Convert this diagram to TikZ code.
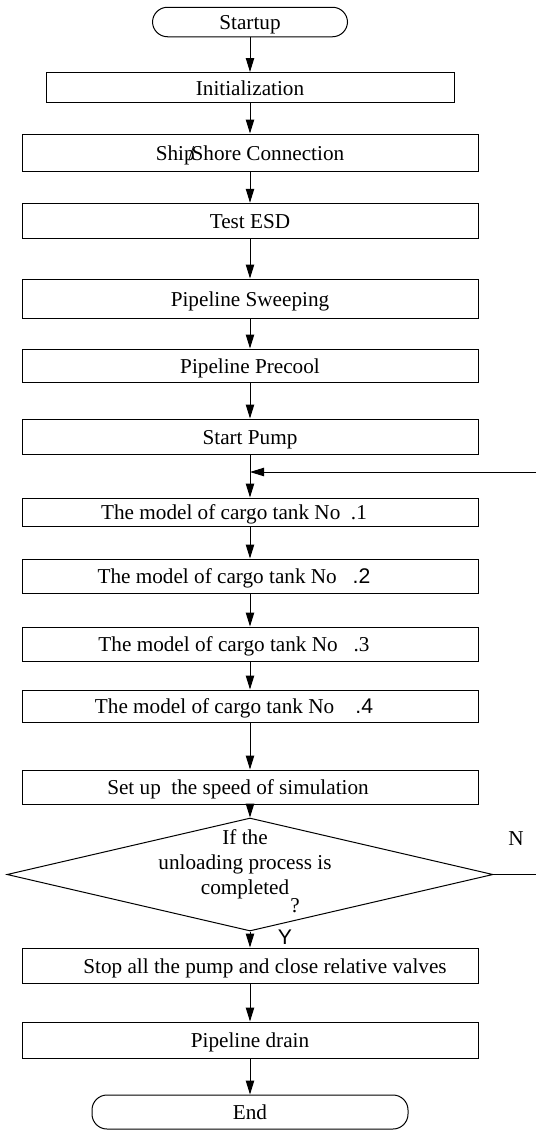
\documentclass[tikz,border=0pt]{standalone}
\usepackage{fontspec}
\setmainfont{Liberation Serif}
\newfontfamily\numfont{Liberation Sans}
\usetikzlibrary{arrows.meta,shapes.geometric}
\begin{document}
\begin{tikzpicture}[x=0.5pt,y=-0.5pt,
  font=\fontsize{10.6}{12.5}\selectfont,
  line width=0.5pt,
  proc/.style={draw,rectangle,minimum width=228pt,inner sep=0pt,text height=0.8em,text depth=0.05em},
  term/.style={draw,rectangle,rounded corners=7.5pt,inner sep=0pt,text height=0.8em,text depth=0.05em},
  flow/.style={-{Triangle[length=7pt,width=4.2pt]}}]
\useasboundingbox (0,0) rectangle (536,1130);
\node[term,minimum width=97.5pt,minimum height=14.75pt] (start) at (250,22) {Startup};
\node[proc,minimum width=204pt,minimum height=15pt] (init) at (250,87.5) {Initialization};
\node[proc,minimum height=18.5pt] (ship) at (250,152.5) {Ship\kern-0.3em/\kern-0.12em Shore Connection};
\node[proc,minimum height=17.75pt] (esd) at (250,221) {Test ESD};
\node[proc,minimum height=19.5pt] (sweep) at (250,298.5) {Pipeline Sweeping};
\node[proc,minimum height=16.5pt] (precool) at (250,365.5) {Pipeline Precool};
\node[proc,minimum height=17.5pt] (pump) at (250,436.5) {Start Pump};
\node[proc,minimum height=14pt] (tank1) at (250,512) {The model of cargo tank No~~.1\hspace*{16pt}};
\node[proc,minimum height=17pt] (tank2) at (250,576) {The model of cargo tank No~~~{\numfont .2}\hspace*{16pt}};
\node[proc,minimum height=17pt] (tank3) at (250,644) {The model of cargo tank No~~~.3\hspace*{16pt}};
\node[proc,minimum height=16pt] (tank4) at (250,706) {The model of cargo tank No~~~~{\numfont .4}\hspace*{16pt}};
\node[proc,minimum height=17pt] (speed) at (250,787) {Set up~~the speed of simulation\hspace*{12pt}};
\node[draw,diamond,minimum width=243pt,minimum height=56.5pt,inner sep=0pt] (done) at (250,874.5) {};
\node[align=center,inner sep=0pt] (donetext) at (245,864) {If the\\unloading process is\\completed};
\node (qmark) at (295,906) {?};
\node (yes) at (285,937) {\numfont Y};
\node (no) at (516,839) {N};
\node[proc,minimum height=17.5pt] (stop) at (250,965.5) {\hspace*{15pt}Stop all the pump and close relative valves};
\node[proc,minimum height=18pt] (drain) at (250,1040) {Pipeline drain};
\node[term,minimum width=158pt,minimum height=17pt] (end) at (250,1112) {End};
\coordinate (join) at (250,472);
\coordinate (back) at (536,472);
\coordinate (out) at (536,874.5);
\foreach \a/\b in {start/init,init/ship,ship/esd,esd/sweep,sweep/precool,precool/pump,
  pump/tank1,tank1/tank2,tank2/tank3,tank3/tank4,tank4/speed,speed/done,done/stop,stop/drain,drain/end}
  \draw[flow] (\a) -- (\b);
\draw[flow] (back) -- (join);
\draw (done.east) -- (out);
\end{tikzpicture}
\end{document}
